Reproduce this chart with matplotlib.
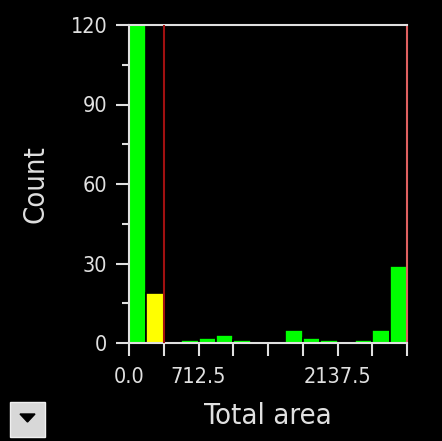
import numpy as np
import matplotlib
matplotlib.use("Agg")
import matplotlib.pyplot as plt
from matplotlib.patches import Rectangle, Polygon

plt.rcParams['font.family'] = ['DejaVu Sans']
plt.rcParams['font.stretch'] = 'condensed'

# histogram of total area, 16 bins over 0..2850
bin_width = 178.125
counts = [120, 19, 0, 1, 2, 3, 1, 0, 0, 5, 2, 1, 0, 1, 5, 29]
colors = ['#00ff00', '#ffff00'] + ['#00ff00'] * 14
x_ticks = [i * 356.25 for i in range(9)]
x_ticklabels = ['0.0', '', '712.5', '', '', '', '2137.5', '', '']
y_ticks = [0, 30, 60, 90, 120]
threshold = 360

fg = '#e0e0e0'
fig = plt.figure(figsize=(4.42, 4.41), dpi=100, facecolor='black')
ax = fig.add_axes([129 / 442, 1 - 343 / 441, 278 / 442, 318 / 441])
ax.set_facecolor('black')

edges = np.arange(len(counts)) * bin_width
ax.bar(edges, counts, width=bin_width, align='edge', color=colors,
       edgecolor='black', linewidth=1.2, zorder=2)
ax.axvline(threshold, color='#a01010', linewidth=1.5, zorder=3)

ax.set_xlim(0, 2850)
ax.set_ylim(0, 120)
ax.set_xticks(x_ticks)
ax.set_xticklabels(x_ticklabels)
ax.set_yticks(y_ticks)
ax.set_yticks([15, 45, 75, 105], minor=True)

for s in ['left', 'bottom', 'top']:
    ax.spines[s].set_color(fg)
    ax.spines[s].set_linewidth(1.5)
ax.spines['right'].set_color('#e06060')
ax.spines['right'].set_linewidth(1.5)

ax.tick_params(axis='both', colors=fg, labelsize=15.5, width=1.5)
ax.tick_params(axis='y', which='major', length=9.5, pad=6)
ax.tick_params(axis='y', which='minor', length=5, width=1.5, colors=fg)
ax.tick_params(axis='x', length=9, pad=8)

ax.set_xlabel('Total area', color=fg, fontsize=21, labelpad=11)
ax.set_ylabel('Count', color=fg, fontsize=21, labelpad=15)

# dropdown button in the corner
fig.patches.append(Rectangle((10 / 442, 1 - 437 / 441), 35 / 442, 35 / 441,
                             transform=fig.transFigure, facecolor='#d8d8d8',
                             edgecolor='#f0f0f0', linewidth=1))
fig.patches.append(Polygon([[20 / 442, 1 - 414 / 441], [35 / 442, 1 - 414 / 441],
                            [27.5 / 442, 1 - 422 / 441]],
                           closed=True, transform=fig.transFigure,
                           facecolor='black', edgecolor='black'))

fig.savefig('out.png', dpi=100, facecolor='black')
